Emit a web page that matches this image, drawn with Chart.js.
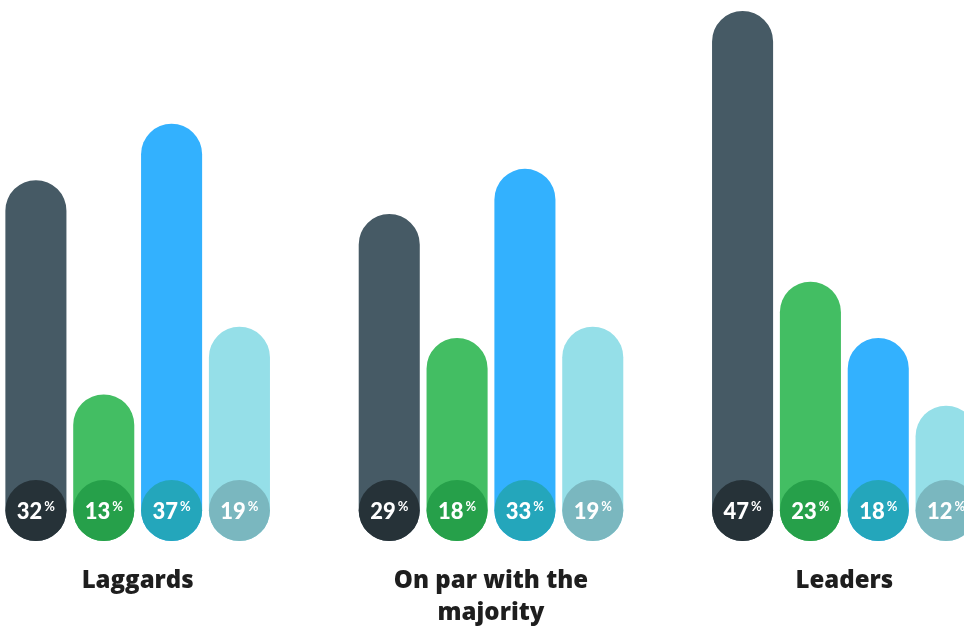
<!DOCTYPE html>
<html>
<head>
<meta charset="utf-8">
<script src="https://cdn.jsdelivr.net/npm/chart.js@4"></script>
<style>
  html, body { margin: 0; padding: 0; background: #fff; overflow: hidden; width: 964px; height: 627px; }
  #wrap { position: absolute; left: -39px; top: 0; width: 1060px; height: 627px; }
</style>
</head>
<body>
<div id="wrap"><canvas id="chart" width="1060" height="627"></canvas></div>
<script>
const categories = [['Laggards'], ['On par with the', 'majority'], ['Leaders']];
const seriesNames = ['Series 1', 'Series 2', 'Series 3', 'Series 4'];
const series1 = [32, 29, 47];
const series2 = [13, 18, 23];
const series3 = [37, 33, 18];
const series4 = [19, 19, 12];

const barColors = ['#465a65', '#43be63', '#33b1fe', '#95dfe8'];
const circleColors = ['#263238', '#26a04a', '#24a6bb', '#7ab7bf'];

// draws the dark circle with the value at the foot of each bar
const footLabels = {
    id: 'footLabels',
    afterDatasetsDraw(chart) {
        const ctx = chart.ctx;
        chart.data.datasets.forEach((ds, i) => {
            const meta = chart.getDatasetMeta(i);
            meta.data.forEach((bar, j) => {
                const r = bar.width / 2;
                const cx = bar.x;
                const cy = bar.base - r;
                ctx.save();
                ctx.beginPath();
                ctx.arc(cx, cy, r, 0, Math.PI * 2);
                ctx.fillStyle = circleColors[i];
                ctx.fill();

                const num = String(ds.data[j]);
                ctx.fillStyle = '#ffffff';
                ctx.textBaseline = 'middle';
                ctx.font = '900 22px Lato';
                const wNum = ctx.measureText(num).width;
                ctx.font = 'bold 13px Lato';
                const wPct = ctx.measureText('%').width;
                const left = cx - (wNum + wPct + 2) / 2;
                ctx.textAlign = 'left';
                ctx.font = '900 22px Lato';
                ctx.fillText(num, left, cy + 1);
                ctx.font = 'bold 13px Lato';
                ctx.fillText('%', left + wNum + 2, cy - 4);
                ctx.restore();
            });
        });
    }
};

const datasets = [series1, series2, series3, series4].map((values, i) => ({
    label: seriesNames[i],
    data: values,
    backgroundColor: barColors[i],
    borderWidth: 0,
    borderSkipped: false,
    borderRadius: 31,
    categoryPercentage: 0.768,
    barPercentage: 0.9,
}));

new Chart(document.getElementById('chart'), {
    type: 'bar',
    data: { labels: categories, datasets: datasets },
    options: {
        responsive: false,
        animation: false,
        layout: { padding: { top: 11, bottom: 0, left: 0, right: 0 } },
        plugins: {
            legend: { display: false },
            tooltip: { enabled: false },
        },
        scales: {
            x: {
                grid: { display: false, drawTicks: false },
                border: { display: false },
                afterFit: (scale) => { scale.height = 86; },
                ticks: {
                    color: '#1e1e1e',
                    padding: 25,
                    font: { family: 'Open Sans', weight: '800', size: 24, lineHeight: 1.3 },
                },
            },
            y: {
                display: false,
                min: 0,
                max: 47,
            },
        },
    },
    plugins: [footLabels],
});
</script>
</body>
</html>
